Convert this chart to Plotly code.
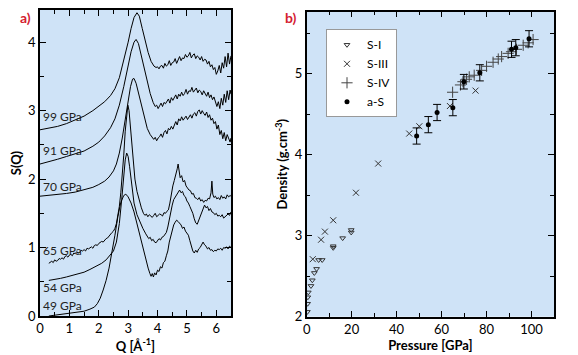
import plotly.graph_objects as go

# ---------------- Panel a) : S(Q) curves ----------------
q99 = [0.0,0.3,0.6,0.9,1.2,1.5,1.8,2.0,2.2,2.4,2.55,2.7,2.85,3.0,3.1,3.2,3.3,3.38,3.48,3.58,3.68,3.78,3.88,3.95,
       4.0,4.05,4.1,4.15,4.2,4.25,4.3,4.35,4.4,4.45,4.5,4.55,4.6,4.65,4.7,4.75,4.8,4.85,4.9,4.95,5.0,5.05,5.1,5.15,
       5.2,5.25,5.3,5.35,5.4,5.45,5.5,5.55,5.6,5.65,5.7,5.75,5.8,5.85,5.9,5.95,6.0,6.05,6.1,6.15,6.2,6.25,6.3,6.35,6.4,6.45,6.5]
s99 = [2.72,2.74,2.77,2.81,2.86,2.92,3.0,3.06,3.13,3.22,3.32,3.48,3.72,4.0,4.2,4.36,4.43,4.38,4.2,4.02,3.85,3.72,3.65,3.63,
       3.64,3.61,3.65,3.66,3.62,3.69,3.65,3.67,3.73,3.66,3.7,3.71,3.76,3.69,3.74,3.79,3.73,3.77,3.76,3.82,3.78,3.8,3.85,3.77,
       3.81,3.83,3.76,3.8,3.78,3.74,3.79,3.72,3.75,3.74,3.68,3.72,3.64,3.67,3.6,3.63,3.53,3.58,3.66,3.55,3.7,3.62,3.79,3.64,3.84,3.68,3.8]

q91 = [0.0,0.3,0.6,0.9,1.2,1.5,1.8,2.0,2.2,2.4,2.55,2.7,2.85,3.0,3.1,3.2,3.27,3.35,3.45,3.55,3.65,3.75,3.85,3.92,
       3.97,4.02,4.07,4.12,4.17,4.22,4.27,4.32,4.37,4.42,4.47,4.52,4.57,4.62,4.67,4.72,4.77,4.82,4.87,4.92,4.97,5.02,
       5.07,5.12,5.17,5.22,5.27,5.32,5.37,5.42,5.47,5.52,5.57,5.62,5.67,5.72,5.77,5.82,5.87,5.92,5.97,6.02,6.07,6.12,
       6.17,6.22,6.27,6.32,6.37,6.42,6.47,6.5]
s91 = [2.22,2.25,2.29,2.33,2.37,2.41,2.48,2.54,2.63,2.75,2.88,3.08,3.35,3.65,3.86,4.0,4.04,3.98,3.8,3.6,3.42,3.25,3.12,3.06,
       3.08,3.03,3.07,3.11,3.06,3.12,3.1,3.14,3.17,3.11,3.19,3.15,3.2,3.23,3.17,3.24,3.21,3.27,3.22,3.25,3.31,3.24,
       3.29,3.28,3.34,3.27,3.3,3.33,3.26,3.3,3.28,3.23,3.29,3.25,3.21,3.27,3.19,3.23,3.16,3.2,3.12,3.06,3.13,3.03,
       3.18,3.08,3.24,3.12,3.29,3.16,3.3,3.24]

q70 = [0.0,0.3,0.6,0.9,1.2,1.5,1.8,2.0,2.2,2.35,2.5,2.6,2.7,2.8,2.9,3.0,3.08,3.15,3.2,3.27,3.35,3.45,3.55,3.65,3.75,3.82,
       3.87,3.92,3.97,4.02,4.07,4.12,4.17,4.22,4.27,4.32,4.37,4.42,4.47,4.52,4.57,4.62,4.67,4.72,4.77,4.82,4.87,4.92,
       4.97,5.02,5.07,5.12,5.17,5.22,5.27,5.32,5.37,5.42,5.47,5.52,5.57,5.62,5.67,5.72,5.77,5.82,5.87,5.92,5.97,6.02,
       6.07,6.12,6.17,6.22,6.27,6.32,6.37,6.42,6.47,6.5]
s70 = [1.75,1.76,1.77,1.79,1.81,1.84,1.88,1.92,1.97,2.03,2.12,2.22,2.38,2.6,2.88,3.15,3.35,3.46,3.47,3.4,3.26,3.06,2.88,2.74,2.65,2.6,
       2.58,2.61,2.56,2.6,2.62,2.66,2.61,2.68,2.71,2.66,2.74,2.72,2.77,2.73,2.8,2.84,2.79,2.88,2.85,2.91,2.86,2.89,
       2.92,2.87,2.9,2.94,2.89,2.95,2.97,2.92,2.99,3.01,2.95,3.0,2.96,2.93,2.98,2.9,2.94,2.86,2.89,2.81,2.84,2.73,
       2.79,2.65,2.71,2.59,2.68,2.56,2.65,2.6,2.54,2.6]

q65 = [0.3,0.35,0.4,0.45,0.5,0.55,0.6,0.65,0.7,0.75,0.8,0.85,0.9,0.95,1.0,1.05,1.1,1.15,1.2,1.25,1.3,1.35,1.4,1.45,1.5,
       1.55,1.6,1.65,1.7,1.75,1.8,1.85,1.9,1.95,2.0,2.05,2.1,2.15,2.2,2.25,2.3,2.35,2.4,2.45,2.5,2.55,2.6,2.65,2.7,2.75,
       2.8,2.85,2.9,2.95,2.99,3.03,3.08,3.13,3.18,3.23,3.3,3.38,3.45,3.52,
       3.57,3.62,3.67,3.72,3.77,3.82,3.87,3.92,3.97,4.02,4.07,4.12,4.17,4.22,4.27,4.32,4.37,4.42,4.47,4.52,4.57,4.62,
       4.67,4.7,4.73,4.77,4.82,4.87,4.92,4.97,5.02,5.07,5.12,5.17,5.22,5.27,5.32,5.37,5.42,5.47,5.52,5.57,5.62,5.67,
       5.72,5.77,5.82,5.85,5.88,5.92,5.97,6.02,6.07,6.12,6.17,6.22,6.27,6.32,6.37,6.42,6.47,6.5]
s65 = [0.77,0.79,0.8,0.78,0.82,0.8,0.81,0.84,0.83,0.85,0.83,0.87,0.88,0.86,0.89,0.9,0.88,0.92,0.91,0.94,0.92,0.93,0.96,0.95,0.97,
       0.95,0.99,0.98,1.0,1.01,0.99,1.03,1.04,1.03,1.06,1.07,1.09,1.08,1.11,1.13,1.14,1.17,1.19,1.22,1.24,1.28,1.35,1.45,1.6,1.8,
       2.05,2.35,2.7,2.95,3.08,3.0,2.75,2.45,2.2,2.0,1.82,1.68,1.58,1.5,
       1.47,1.49,1.45,1.48,1.46,1.44,1.47,1.5,1.45,1.47,1.49,1.48,1.46,1.51,1.5,1.53,1.55,1.65,1.8,1.9,1.98,2.05,
       2.15,2.22,2.1,2.02,2.05,1.96,1.98,1.9,1.87,1.84,1.83,1.78,1.79,1.73,1.72,1.7,1.73,1.68,1.7,1.66,1.69,1.68,
       1.72,1.71,1.8,1.97,1.78,1.73,1.75,1.71,1.73,1.7,1.76,1.72,1.74,1.71,1.77,1.74,1.76,1.75]

q54 = [0.3,0.5,0.7,0.9,1.1,1.3,1.5,1.7,1.9,2.1,2.25,2.4,2.5,2.6,2.7,2.78,2.85,2.9,2.95,3.0,3.05,3.12,3.2,3.3,3.4,3.5,3.6,
       3.65,3.7,3.75,3.8,3.85,3.9,3.95,4.0,4.05,4.1,4.15,4.2,4.25,4.3,4.35,4.4,4.45,4.5,4.55,4.6,4.65,4.7,4.75,4.8,
       4.85,4.9,4.95,5.0,5.05,5.1,5.15,5.2,5.25,5.3,5.35,5.4,5.45,5.5,5.55,5.6,5.65,5.7,5.75,5.8,5.85,5.9,5.95,6.0,
       6.05,6.1,6.15,6.2,6.25,6.3,6.35,6.4,6.45,6.5]
s54 = [0.52,0.53,0.55,0.57,0.59,0.61,0.64,0.68,0.72,0.77,0.82,0.89,0.95,1.08,1.35,1.7,2.05,2.28,2.38,2.33,2.18,1.9,1.65,1.48,1.37,1.28,1.2,
       1.16,1.13,1.15,1.1,1.12,1.08,1.07,1.1,1.13,1.11,1.15,1.16,1.2,1.22,1.3,1.42,1.5,1.62,1.7,1.74,1.78,1.8,1.84,1.8,
       1.82,1.76,1.74,1.68,1.65,1.6,1.56,1.5,1.42,1.36,1.34,1.4,1.46,1.52,1.57,1.62,1.58,1.6,1.54,1.57,1.52,1.51,1.48,1.5,
       1.46,1.47,1.45,1.48,1.43,1.45,1.46,1.49,1.47,1.52]

q49 = [0.3,0.5,0.7,0.9,1.1,1.3,1.5,1.7,1.85,1.95,2.05,2.15,2.25,2.35,2.45,2.55,2.65,2.75,2.85,2.92,3.0,3.1,3.2,3.3,3.4,
       3.5,3.6,3.68,3.74,3.78,3.82,3.86,3.9,3.95,4.0,4.05,4.1,4.15,4.2,4.25,4.3,4.35,4.4,4.45,4.5,4.55,4.6,4.65,4.7,
       4.75,4.8,4.85,4.9,4.95,5.0,5.05,5.1,5.15,5.2,5.25,5.3,5.35,5.4,5.45,5.5,5.55,5.6,5.65,5.7,5.75,5.8,5.85,5.9,
       5.95,6.0,6.05,6.1,6.15,6.2,6.25,6.3,6.35,6.4,6.45,6.5]
s49 = [0.0,0.01,0.02,0.03,0.04,0.05,0.07,0.1,0.13,0.18,0.26,0.38,0.52,0.7,0.92,1.18,1.45,1.66,1.76,1.78,1.74,1.65,1.52,1.35,1.16,
       0.98,0.82,0.7,0.62,0.58,0.62,0.57,0.63,0.6,0.67,0.65,0.72,0.7,0.78,0.8,0.88,0.95,1.08,1.18,1.26,1.33,1.37,1.4,1.38,
       1.35,1.33,1.28,1.3,1.24,1.2,1.18,1.1,1.02,0.95,0.92,0.96,0.93,0.98,1.0,1.04,1.08,1.04,1.02,0.98,1.0,0.96,0.97,0.94,
       0.96,0.95,0.98,0.97,0.99,0.96,1.0,0.99,1.01,0.98,1.02,1.0]

curve_labels = ["99 GPa", "91 GPa", "70 GPa", "65 GPa", "54 GPa", "49 GPa"]
label_s = [2.91, 2.42, 1.89, 0.95, 0.42, 0.16]

# ---------------- Panel b) : density vs pressure ----------------
p_s1 = [0.3, 0.4, 0.5, 0.7, 1.9, 2.5, 3.4, 4.4, 5.3, 6.9, 11.8, 11.8, 16.0, 19.8, 19.8]
d_s1 = [2.06, 2.16, 2.24, 2.30, 2.38, 2.45, 2.54, 2.59, 2.70, 2.70, 2.87, 2.85, 2.97, 3.07, 3.04]

p_s3 = [2.7, 6.4, 8.1, 11.8, 21.9, 31.8, 45.6, 50.1, 63.7, 75.1]
d_s3 = [2.71, 2.95, 3.05, 3.19, 3.53, 3.89, 4.26, 4.35, 4.60, 4.79]

p_s4 = [64.9, 68.4, 69.5, 71.1, 72.3, 74.5, 77.8, 80.0, 82.9, 85.2, 86.7, 89.6, 91.1, 93.3, 96.3, 98.5, 100.7]
d_s4 = [4.77, 4.86, 4.90, 4.93, 4.96, 4.98, 5.04, 5.09, 5.14, 5.18, 5.21, 5.25, 5.27, 5.30, 5.35, 5.38, 5.42]

p_as = [48.9, 54.1, 58.0, 65.0, 69.9, 77.0, 91.1, 93.0, 98.9]
d_as = [4.23, 4.37, 4.52, 4.58, 4.90, 5.01, 5.30, 5.32, 5.43]
e_as = [0.10, 0.10, 0.10, 0.10, 0.09, 0.10, 0.10, 0.10, 0.10]

FONT = "Lato"
BG = "#cfe3f7"

fig = go.Figure()

for q, s in [(q99, s99), (q91, s91), (q70, s70), (q65, s65), (q54, s54), (q49, s49)]:
    fig.add_trace(go.Scatter(x=q, y=s, mode="lines", line=dict(color="black", width=1),
                             showlegend=False, xaxis="x", yaxis="y"))

for txt, ys in zip(curve_labels, label_s):
    fig.add_annotation(x=0.05, y=ys, xref="x", yref="y", text=txt, showarrow=False,
                       xanchor="left", yanchor="middle", font=dict(family=FONT, size=12, color="#222"))

fig.add_trace(go.Scatter(x=p_s1, y=d_s1, mode="markers", name="S-I", xaxis="x2", yaxis="y2",
                         marker=dict(symbol="triangle-down-open", size=5, color="#333",
                                     line=dict(width=1, color="#333"))))
fig.add_trace(go.Scatter(x=p_s3, y=d_s3, mode="markers", name="S-III", xaxis="x2", yaxis="y2",
                         marker=dict(symbol="x-thin-open", size=6, color="#333",
                                     line=dict(width=1, color="#333"))))
fig.add_trace(go.Scatter(x=p_s4, y=d_s4, mode="markers", name="S-IV", xaxis="x2", yaxis="y2",
                         marker=dict(symbol="cross-thin-open", size=8, color="#444",
                                     line=dict(width=1, color="#444"))))
fig.add_trace(go.Scatter(x=p_as, y=d_as, mode="markers", name="a-S", xaxis="x2", yaxis="y2",
                         marker=dict(symbol="circle", size=5, color="black"),
                         error_y=dict(type="data", array=e_as, color="black", thickness=1, width=4)))

axis_common = dict(showline=True, linecolor="black", linewidth=1.5, mirror="ticks",
                   ticks="inside", ticklen=6, tickcolor="black", tickwidth=1,
                   showgrid=False, zeroline=False, automargin=False,
                   tickfont=dict(family=FONT, size=13, color="black"))
title_font = dict(family=FONT, size=13, color="black")

# The page body has an 8px default margin, so the figure is 8px smaller
# and all pixel positions below are measured from (8, 8) in the page.
OFF = 8
W, H = 578 - OFF, 355 - OFF


def fx(px):
    return (px - OFF) / W


def fy(py):
    return 1 - (py - OFF) / H


fig.update_layout(
    width=W, height=H,
    margin=dict(l=0, r=0, t=0, b=0, autoexpand=False),
    paper_bgcolor="white", plot_bgcolor=BG,
    xaxis=dict(domain=[fx(40), fx(231)], range=[0, 6.5], dtick=1, anchor="y",
               minor=dict(dtick=0.5, ticks="inside", ticklen=4, tickcolor="black"),
               title=dict(text="<b>Q [Å<sup>-1</sup>]</b>", font=title_font, standoff=2),
               **axis_common),
    yaxis=dict(domain=[fy(316), fy(10)], range=[0, 4.47], dtick=1, anchor="x",
               minor=dict(dtick=0.5, ticks="inside", ticklen=4, tickcolor="black"),
               title=dict(text="<b>S(Q)</b>", font=title_font, standoff=4),
               **axis_common),
    xaxis2=dict(domain=[fx(306.7), fx(554)], range=[0, 110], dtick=20, anchor="y2",
                minor=dict(dtick=10, ticks="inside", ticklen=4, tickcolor="black"),
                title=dict(text="<b>Pressure [GPa]</b>", font=title_font, standoff=2),
                **axis_common),
    yaxis2=dict(domain=[fy(316.7), fy(11.7)], range=[2, 5.764], dtick=1, anchor="x2",
                minor=dict(dtick=0.5, ticks="inside", ticklen=4, tickcolor="black"),
                title=dict(text="<b>Density (g.cm<sup>-3</sup>)</b>", font=title_font, standoff=4),
                **axis_common),
    legend=dict(x=fx(326), y=fy(29.3), xanchor="left", yanchor="top",
                bgcolor="white", bordercolor="#999", borderwidth=1, itemwidth=30,
                font=dict(family=FONT, size=12, color="black"), tracegroupgap=0),
    showlegend=True,
)

fig.add_annotation(x=fx(25), y=fy(17), xref="paper", yref="paper", text="<b>a)</b>", showarrow=False,
                   xanchor="center", yanchor="middle", font=dict(family=FONT, size=14, color="#d42030"))
fig.add_annotation(x=fx(291), y=fy(17), xref="paper", yref="paper", text="<b>b)</b>", showarrow=False,
                   xanchor="center", yanchor="middle", font=dict(family=FONT, size=14, color="#d42030"))

fig.write_html("out.html")
